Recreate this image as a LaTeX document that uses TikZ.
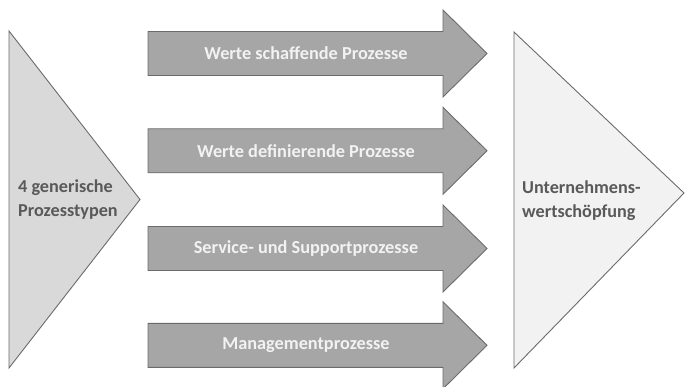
\documentclass[tikz,border=0pt]{standalone}
\usepackage{fontspec}
\setmainfont{Carlito}
\definecolor{arrowfill}{HTML}{A6A6A6}
\definecolor{edgecol}{HTML}{6B6B6B}
\definecolor{leftfill}{HTML}{D9D9D9}
\definecolor{rightfill}{HTML}{F2F2F2}
\definecolor{darktext}{HTML}{595959}
\definecolor{lighttext}{HTML}{F2F2F2}
\tikzset{
  procarrow/.style={fill=arrowfill, draw=edgecol, line width=0.9pt, line join=miter},
  tri/.style={draw=edgecol, line width=0.9pt, line join=miter},
  arrowtext/.style={text=lighttext, font=\bfseries\fontsize{18.3}{22}\selectfont, inner sep=0pt},
  sidetext/.style={text=darktext, font=\bfseries\fontsize{18.2}{24}\selectfont, align=left, anchor=west, inner sep=0pt}
}
\begin{document}
\begin{tikzpicture}[x=1pt,y=-1pt]
\useasboundingbox (0,0) rectangle (685,387);
\draw[tri, fill=leftfill] (9,31) -- (140,199.5) -- (9,368) -- cycle;
\draw[tri, fill=rightfill] (514,32) -- (684,193) -- (514,368) -- cycle;
\foreach \c/\t [count=\i] in {53.5/Werte schaffende Prozesse, 150.8/Werte definierende Prozesse, 248.5/Service- und Supportprozesse, 345.3/Managementprozesse} {
  \draw[procarrow] (148,\c-22) -- (443,\c-22) -- (443,\c-43.5) -- (487,\c) -- (443,\c+43.5) -- (443,\c+22) -- (148,\c+22) -- cycle;
  \node[arrowtext] (a\i) at (306,\c) {\t};
}
\node[sidetext] (left) at (18,200) {4 generische\\Prozesstypen};
\node[sidetext] (right) at (522,201) {Unternehmens-\\wertschöpfung};
\end{tikzpicture}
\end{document}
